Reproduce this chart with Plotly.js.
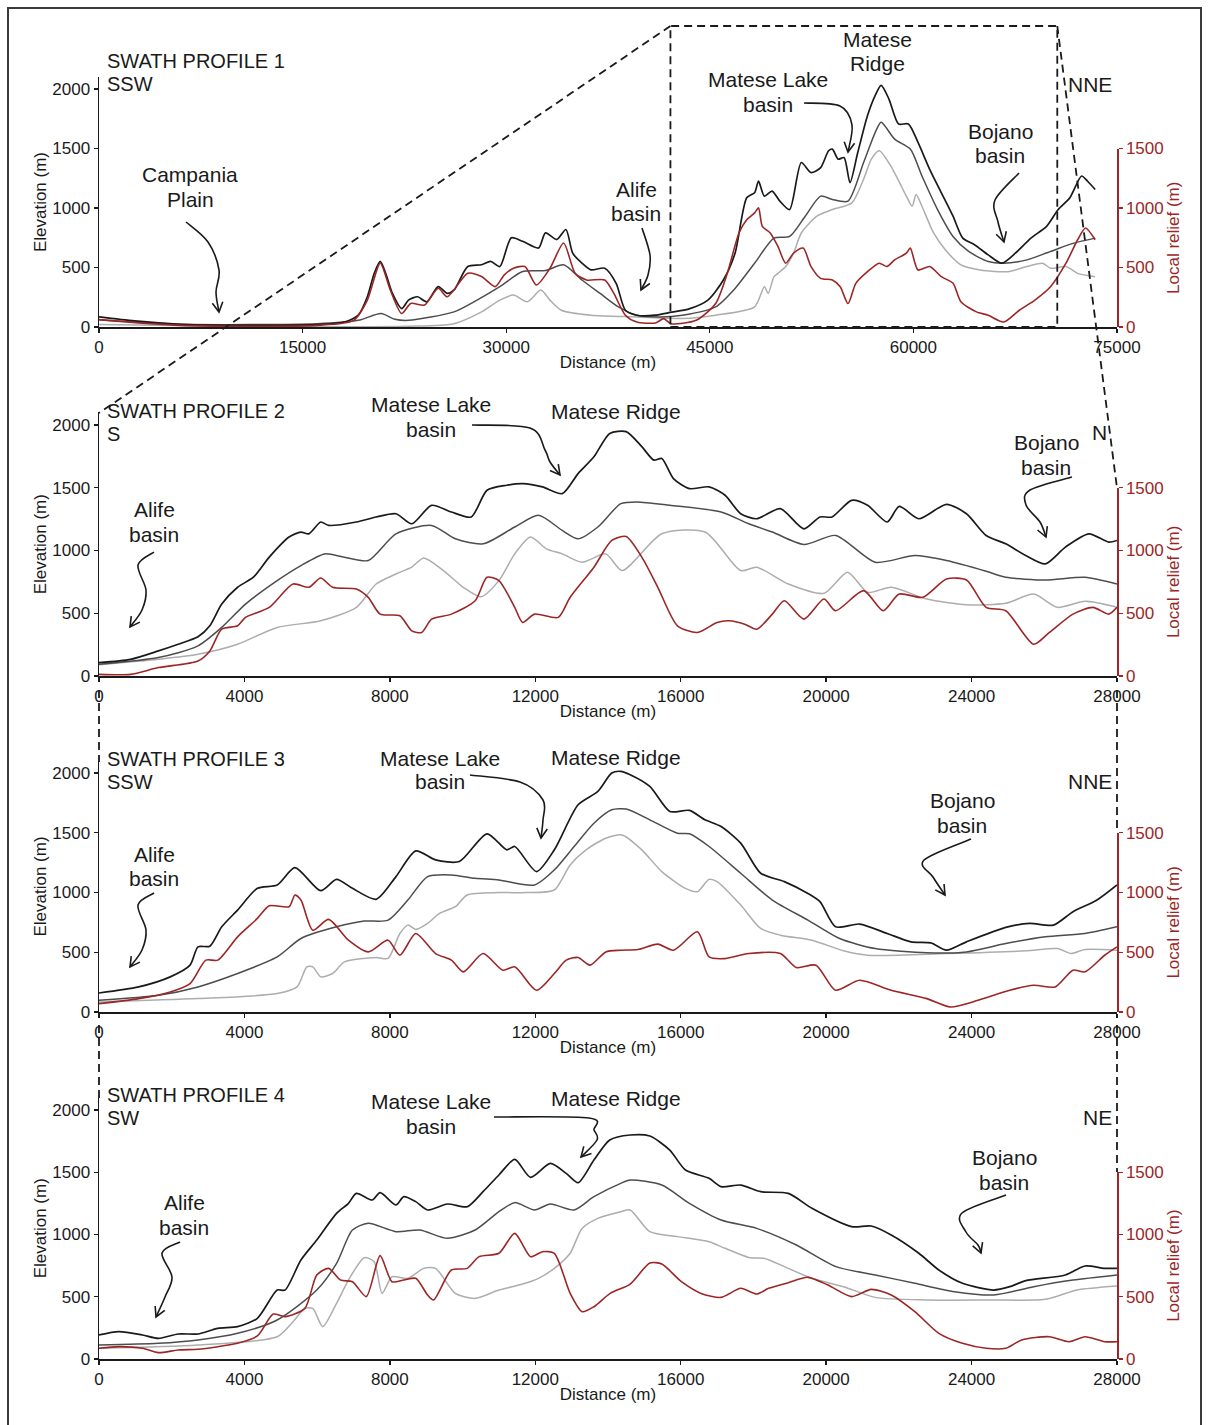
<!DOCTYPE html>
<html><head><meta charset="utf-8">
<script src="https://cdn.plot.ly/plotly-3.0.1.min.js"></script>
<style>html,body{margin:0;padding:0;background:#fff;}#chart{width:1209px;height:1425px;}</style>
</head><body><div id="chart"></div>
<script>
// ---------------- DATA (distance m, value m) ----------------
const p1Max=[[0,85],[2620,51],[5990,23],[9350,14],[12700,14],[16070,20],[18090,42],[19100,99],[19770,254],[20280,452],[20720,551],[21120,452],[21620,282],[22300,155],[22800,226],[23470,254],[24150,212],[24990,339],[25660,282],[26160,311],[27170,508],[28180,523],[28850,551],[29530,508],[30370,749],[31210,720],[32390,664],[32890,791],[33730,735],[34400,819],[34900,621],[35580,537],[36250,480],[37260,494],[38100,367],[38780,141],[39620,99],[40960,99],[42200,125],[43420,150],[44860,226],[46000,395],[46860,620],[47720,1086],[48300,1128],[48590,1227],[49020,1100],[49590,1142],[50160,1058],[50880,987],[51740,1382],[52460,1297],[53170,1340],[53750,1481],[54030,1495],[54460,1410],[54890,1424],[55330,1213],[55900,1466],[56620,1777],[57190,1946],[57620,2030],[58190,1918],[58910,1706],[59630,1706],[60340,1551],[61200,1325],[62060,1128],[62920,931],[63640,747],[64500,691],[65510,606],[66510,536],[67510,620],[68660,747],[69810,846],[70670,987],[71530,1086],[72390,1269],[72820,1227],[73390,1156]];
const p1Mean=[[0,60],[5990,23],[16070,28],[19100,56],[20780,113],[21800,65],[22800,56],[26160,127],[27850,226],[29530,339],[31210,466],[32890,474],[34230,523],[35580,395],[36920,282],[38270,169],[39620,99],[41300,85],[42980,99],[45430,169],[46860,324],[48300,536],[49730,747],[50880,761],[52030,931],[53170,1100],[54030,1072],[55180,1058],[56330,1382],[57190,1636],[57620,1720],[58620,1579],[59770,1495],[60630,1269],[61780,987],[62920,761],[64070,635],[65510,550],[66650,536],[68370,564],[70100,635],[71820,705],[73390,747]];
const p1Min=[[0,20],[10000,6],[22800,6],[26160,28],[28180,127],[29530,226],[30540,268],[31550,212],[32560,311],[33220,226],[34060,141],[36250,99],[39620,85],[42980,71],[45430,99],[48300,169],[49020,338],[49300,282],[49730,423],[50020,451],[50590,508],[51170,620],[51740,790],[52890,931],[54030,987],[55470,1043],[56330,1241],[56900,1410],[57480,1481],[58330,1354],[59480,1100],[59910,1015],[60200,1114],[60630,1015],[61490,790],[62350,649],[63500,522],[64930,479],[66940,465],[68370,508],[69520,536],[70100,494],[71240,508],[72100,451],[73390,423]];
const p1Relief=[[0,62],[5990,14],[16070,14],[18770,56],[19770,226],[20720,537],[21460,311],[22300,113],[22970,198],[23980,184],[24990,325],[25660,254],[27170,452],[28180,424],[29190,339],[29860,438],[30540,494],[31380,508],[32220,353],[33230,494],[34230,706],[35080,452],[35920,395],[37260,395],[37930,282],[38780,99],[39620,42],[41000,34],[41600,70],[42130,28],[44000,56],[45430,197],[46290,451],[47150,790],[47720,902],[48300,959],[48590,1001],[48870,846],[49450,790],[50020,677],[50590,536],[51170,620],[51880,663],[52460,508],[53170,409],[54030,395],[54610,338],[55180,197],[55760,367],[56620,465],[57480,536],[58050,508],[58620,564],[59480,620],[59770,663],[60340,479],[61200,508],[62060,423],[62920,367],[63500,212],[64650,127],[65510,99],[66650,42],[67800,141],[68950,226],[70100,338],[71240,536],[72100,733],[72680,832],[73390,733]];

const p2Max=[[0,107],[871,133],[1634,200],[2178,253],[2723,312],[3049,400],[3376,573],[3812,707],[4247,787],[4683,947],[5227,1107],[5554,1147],[5772,1133],[6098,1227],[6316,1200],[7079,1227],[7623,1267],[8168,1293],[8603,1213],[9148,1360],[9692,1307],[10237,1267],[10672,1480],[11217,1520],[11652,1533],[12197,1507],[12741,1453],[13177,1613],[13613,1747],[14048,1933],[14500,1947],[14930,1827],[15260,1720],[15480,1733],[15800,1573],[16240,1493],[16780,1507],[17220,1440],[17650,1293],[18090,1253],[18740,1333],[19390,1173],[19830,1267],[20160,1267],[20700,1400],[21140,1360],[21680,1227],[22010,1352],[22550,1253],[23310,1368],[23860,1293],[24400,1120],[24940,1053],[25490,960],[26030,893],[26580,1027],[27230,1133],[27770,1067],[28000,1080]];
const p2Mean=[[0,93],[1634,147],[2723,240],[3376,387],[4030,573],[4901,760],[5554,880],[6207,973],[6752,947],[7405,920],[8168,1133],[9148,1200],[9801,1093],[10563,1053],[11435,1187],[12088,1280],[12741,1160],[13177,1093],[13721,1187],[14353,1373],[14800,1387],[15700,1360],[17110,1307],[17870,1213],[18520,1147],[19390,1048],[20260,1120],[21350,907],[22440,960],[23310,920],[24400,835],[24940,787],[26030,765],[27120,787],[28000,733]];
const p2Min=[[0,90],[1634,133],[2723,173],[3812,253],[4901,387],[6098,440],[7079,547],[7623,733],[8168,813],[8603,867],[8930,941],[9474,840],[10019,707],[10509,632],[10999,760],[11435,973],[11870,1107],[12306,1013],[12741,973],[13286,907],[13939,973],[14390,840],[15480,1133],[16670,1147],[17650,840],[18090,867],[18960,733],[19940,659],[20590,827],[21140,667],[21790,707],[22770,613],[23860,568],[24940,579],[25710,653],[26360,547],[27120,595],[28000,547]];
const p2Relief=[[0,13],[871,13],[1634,67],[2723,120],[3049,200],[3376,373],[3812,400],[4030,467],[4683,547],[5336,733],[5772,707],[6098,781],[6425,707],[7079,693],[7405,627],[7732,493],[8276,480],[8603,360],[8875,347],[9148,453],[9692,493],[10346,600],[10672,787],[10999,760],[11435,547],[11652,427],[11979,493],[12632,467],[12959,627],[13613,867],[14103,1080],[14500,1112],[14930,947],[15370,707],[15910,400],[16460,347],[17000,427],[17330,440],[17760,413],[18090,373],[18520,493],[18850,600],[19390,453],[19940,613],[20260,520],[21030,680],[21570,520],[22010,653],[22660,627],[23310,773],[23860,765],[24400,547],[24940,520],[25710,253],[26140,347],[26790,493],[27340,547],[27770,493],[28000,547]];

const p3Max=[[0,159],[1089,210],[1960,294],[2505,392],[2723,545],[3049,551],[3376,713],[3812,853],[4356,1035],[4901,1063],[5390,1208],[6098,1015],[6534,1110],[6970,1035],[7623,943],[8168,1133],[8712,1348],[9257,1273],[9910,1259],[10672,1491],[11217,1357],[11435,1385],[12034,1175],[12524,1357],[13177,1734],[13721,1846],[14103,2000],[14350,2014],[14610,1986],[15150,1888],[15700,1678],[16240,1687],[16670,1608],[17110,1552],[17650,1413],[18200,1161],[18850,1091],[19500,992],[19830,923],[20260,713],[20920,736],[21680,657],[22330,587],[22880,579],[23310,517],[23860,587],[24940,708],[25600,741],[26250,727],[26790,839],[27450,937],[28000,1063]];
const p3Mean=[[0,98],[1634,140],[2723,210],[3812,322],[4901,461],[5554,615],[6534,713],[7296,761],[7950,769],[8494,937],[9039,1133],[9692,1147],[10346,1119],[10999,1105],[11979,1063],[12524,1189],[13068,1385],[13613,1580],[14103,1692],[14500,1698],[15150,1608],[15910,1496],[16240,1491],[16780,1385],[17650,1161],[18520,937],[19500,769],[20370,615],[21350,531],[22770,495],[23860,503],[24940,573],[26030,629],[27120,657],[28000,713]];
const p3Min=[[0,84],[2723,112],[4901,154],[5445,210],[5717,378],[5881,378],[6098,294],[6425,322],[6752,420],[7623,456],[7950,448],[8276,657],[8494,727],[8712,691],[9039,741],[9366,825],[9801,881],[10128,979],[11000,999],[11761,999],[12524,1021],[12959,1231],[13395,1357],[13939,1454],[14390,1482],[14930,1357],[15480,1175],[16130,1035],[16460,1007],[16780,1110],[17000,1091],[17650,895],[18200,699],[18740,643],[19610,601],[20480,512],[21140,475],[23310,489],[25490,512],[26360,531],[26740,489],[27120,523],[28000,517]];
const p3Relief=[[0,70],[1089,112],[1960,168],[2505,238],[2940,434],[3267,434],[3812,629],[4356,783],[4683,889],[5227,881],[5390,979],[5554,937],[5881,685],[6316,775],[6861,601],[7405,503],[7950,601],[8276,475],[8712,657],[9257,489],[9692,434],[10019,336],[10563,489],[11108,350],[11435,378],[12034,182],[12524,322],[12850,434],[13177,456],[13504,392],[13939,503],[14353,517],[14820,523],[15370,568],[15800,517],[16460,671],[16780,461],[17220,447],[17870,489],[18740,489],[19180,372],[19720,392],[20260,182],[20920,266],[21790,182],[22770,112],[23420,42],[24180,98],[25050,182],[25710,224],[26300,210],[26790,350],[27120,336],[27660,475],[28000,545]];

const p4Max=[[0,193],[545,220],[1198,193],[1634,166],[2178,201],[2723,201],[3267,246],[3812,260],[4356,327],[4901,554],[5118,554],[5554,795],[5990,956],[6534,1170],[6861,1250],[7079,1330],[7514,1277],[7732,1336],[8168,1237],[8385,1304],[8712,1264],[9039,1197],[9583,1245],[10128,1223],[10563,1344],[10999,1478],[11435,1603],[11870,1459],[12415,1571],[12850,1491],[13177,1416],[13613,1598],[14048,1759],[14610,1799],[15150,1791],[15700,1678],[16130,1518],[16780,1451],[17110,1384],[17650,1397],[18200,1344],[18960,1330],[19610,1210],[20700,1063],[21240,1068],[21790,996],[22550,849],[23100,715],[23750,608],[24610,554],[25050,581],[25490,629],[26580,675],[27120,747],[27660,728],[28000,728]];
const p4Mean=[[0,112],[1634,126],[2723,153],[3812,206],[4901,313],[5990,554],[6534,768],[6970,1036],[7405,1090],[8168,1023],[8821,1036],[9583,969],[10346,1036],[10999,1183],[11435,1256],[11979,1197],[12415,1245],[13068,1197],[13613,1304],[14350,1411],[14610,1438],[15480,1397],[16240,1250],[17110,1116],[18090,1049],[19180,916],[20270,742],[21350,675],[22440,608],[23530,541],[24610,514],[25710,581],[26790,634],[28000,675]];
const p4Min=[[0,86],[2723,112],[4901,179],[5336,300],[5663,407],[5881,407],[6153,260],[6534,447],[6861,634],[7296,814],[7568,782],[7786,527],[8059,661],[8494,648],[8930,728],[9257,728],[9801,527],[10346,487],[10999,554],[11652,602],[12088,648],[12524,728],[12959,849],[13286,1049],[13721,1130],[14350,1183],[14610,1197],[15150,1023],[15910,983],[16780,942],[17220,889],[17870,816],[18310,808],[18850,742],[19610,648],[20480,581],[21350,495],[22770,474],[24400,474],[26030,479],[26900,554],[28000,586]];
const p4Relief=[[0,86],[545,99],[1198,86],[1634,51],[2178,72],[2723,78],[3267,99],[3812,126],[4356,185],[4792,361],[5118,340],[5663,407],[5990,675],[6316,728],[6643,634],[6970,621],[7351,501],[7732,830],[8059,621],[8385,634],[8712,648],[9039,514],[9202,474],[9692,715],[10128,728],[10454,822],[10999,849],[11435,1009],[11870,822],[12197,862],[12524,849],[12959,527],[13286,380],[13613,420],[14060,527],[14610,602],[15150,771],[15480,763],[16020,621],[16560,527],[17110,495],[17650,568],[18090,522],[18420,568],[18960,613],[19500,656],[20050,594],[20700,501],[21240,559],[21790,514],[22440,380],[23100,206],[23750,126],[24400,86],[24940,86],[25380,153],[26140,179],[26680,139],[27120,179],[27660,139],[28000,139]];

const p1Ticks=[0,15000,30000,45000,60000,75000];
const p234Ticks=[0,4000,8000,12000,16000,20000,24000,28000];
const elevTicks=[0,500,1000,1500,2000];
const reliefTicks=[0,500,1000,1500];

// ---------------- LAYOUT ----------------
const W=1209,H=1425;
const FONT='"Liberation Sans", Arial, Helvetica, sans-serif';
const INK='#1a1a1a', MEANC='#4d4d4d', MINC='#adadad', RED='#9c2626';
const PX_L=99, PX_R=1117;
const X=px=>px/W, Y=py=>1-py/H;

const panels=[
 {max:p1Max,mean:p1Mean,min:p1Min,rel:p1Relief,xmax:75000,ticks:p1Ticks,bottom:327,scale:0.119},
 {max:p2Max,mean:p2Mean,min:p2Min,rel:p2Relief,xmax:28000,ticks:p234Ticks,bottom:676,scale:0.1255},
 {max:p3Max,mean:p3Mean,min:p3Min,rel:p3Relief,xmax:28000,ticks:p234Ticks,bottom:1012,scale:0.1195},
 {max:p4Max,mean:p4Mean,min:p4Min,rel:p4Relief,xmax:28000,ticks:p234Ticks,bottom:1359,scale:0.1245}
];

const traces=[]; const layout={
 width:W,height:H,margin:{l:0,r:0,t:0,b:0},showlegend:false,
 paper_bgcolor:'#fff',plot_bgcolor:'rgba(0,0,0,0)',
 font:{family:FONT,color:INK,size:17},annotations:[],shapes:[]
};
const axBase={showgrid:false,zeroline:false,showline:true,linewidth:1.5,ticks:'outside',ticklen:4,tickwidth:1.3,automargin:false,tickfont:{size:17,family:FONT},fixedrange:true};

panels.forEach((p,i)=>{
 const n=i+1, xa=n===1?'x':'x'+n, yl='y'+(2*n-1===1?'':(2*n-1)), yr='y'+(2*n);
 const xKey=n===1?'xaxis':'xaxis'+n, ylKey=2*n-1===1?'yaxis':'yaxis'+(2*n-1), yrKey='yaxis'+(2*n);
 const top2100=p.bottom-2100*p.scale, top1500=p.bottom-1500*p.scale;
 layout[xKey]=Object.assign({},axBase,{domain:[X(PX_L),X(PX_R)],range:[0,p.xmax],anchor:yl,tickvals:p.ticks,tickformat:'d',
   linecolor:INK,tickcolor:INK,title:{text:'Distance (m)',font:{size:17,family:FONT},standoff:0}});
 layout[ylKey]=Object.assign({},axBase,{domain:[Y(p.bottom),Y(top2100)],range:[0,2100],anchor:xa,tickvals:elevTicks,
   linecolor:INK,tickcolor:INK,title:{text:'Elevation (m)',font:{size:17,family:FONT},standoff:1}});
 layout[yrKey]=Object.assign({},axBase,{domain:[Y(p.bottom),Y(top1500)],range:[0,1500],anchor:xa,side:'right',tickvals:reliefTicks,
   linecolor:RED,tickcolor:RED,tickfont:{size:17,family:FONT,color:RED},title:{text:'Local relief (m)',font:{size:17,family:FONT,color:RED},standoff:1}});
 const mk=(arr,color,w,yax,name)=>({type:'scatter',mode:'lines',name:name,x:arr.map(d=>d[0]),y:arr.map(d=>d[1]),xaxis:xa,yaxis:yax,line:{color:color,width:w,shape:'spline',smoothing:0.7},hoverinfo:'skip'});
 traces.push(mk(p.min,MINC,1.5,yl,'Minimum elevation'));
 traces.push(mk(p.mean,MEANC,1.5,yl,'Mean elevation'));
 traces.push(mk(p.max,INK,1.7,yl,'Maximum elevation'));
 traces.push(mk(p.rel,RED,1.6,yr,'Local relief'));
});

// ---------------- TEXT ----------------
function txt(px,py,t,anchor,size){
 layout.annotations.push({xref:'paper',yref:'paper',x:X(px),y:Y(py),text:t,showarrow:false,borderpad:0,
  xanchor:anchor||'center',yanchor:'middle',font:{family:FONT,size:size||21,color:INK}});
}
const labels=[
 [106,61,'SWATH PROFILE 1','left',20],[106,84,'SSW','left',20],
 [190,175,'Campania'],[190,199,'Plain'],[636,189,'Alife'],[636,213,'basin'],
 [768,80,'Matese Lake'],[768,104,'basin'],[877,40,'Matese'],[877,64,'Ridge'],
 [1000,132,'Bojano'],[1000,156,'basin'],[1113,84,'NNE','right'],
 [106,411,'SWATH PROFILE 2','left',20],[106,434,'S','left',20],
 [431,404,'Matese Lake'],[431,429,'basin'],[616,412,'Matese Ridge'],
 [154,509,'Alife'],[154,534,'basin'],[1046,443,'Bojano'],[1046,467,'basin'],[1108,433,'N','right'],
 [106,759,'SWATH PROFILE 3','left',20],[106,782,'SSW','left',20],
 [440,758,'Matese Lake'],[440,782,'basin'],[616,757,'Matese Ridge'],
 [154,854,'Alife'],[154,878,'basin'],[962,800,'Bojano'],[962,825,'basin'],[1113,781,'NNE','right'],
 [106,1095,'SWATH PROFILE 4','left',20],[106,1118,'SW','left',20],
 [431,1101,'Matese Lake'],[431,1126,'basin'],[616,1098,'Matese Ridge'],
 [184,1202,'Alife'],[184,1227,'basin'],[1004,1157,'Bojano'],[1004,1182,'basin'],[1113,1117,'NE','right']
];
labels.forEach(l=>txt(l[0],l[1],l[2],l[3],l[4]));

// ---------------- ARROWS ----------------
function arrow(pts){
 let d='M'+X(pts[0][0])+','+Y(pts[0][1]);
 for(let i=0;i<pts.length-1;i++){
  const p0=pts[Math.max(i-1,0)],p1=pts[i],p2=pts[i+1],p3=pts[Math.min(i+2,pts.length-1)];
  const c1=[p1[0]+(p2[0]-p0[0])/6,p1[1]+(p2[1]-p0[1])/6];
  const c2=[p2[0]-(p3[0]-p1[0])/6,p2[1]-(p3[1]-p1[1])/6];
  d+=' C'+X(c1[0])+','+Y(c1[1])+' '+X(c2[0])+','+Y(c2[1])+' '+X(p2[0])+','+Y(p2[1]);
 }
 layout.shapes.push({type:'path',xref:'paper',yref:'paper',path:d,line:{color:INK,width:1.6}});
 const tip=pts[pts.length-1],prev=pts[pts.length-2];
 let dx=tip[0]-prev[0],dy=tip[1]-prev[1];const L=Math.hypot(dx,dy);dx/=L;dy/=L;
 const hl=11,a=0.5;
 const r=(ang)=>[tip[0]-hl*(dx*Math.cos(ang)-dy*Math.sin(ang)),tip[1]-hl*(dx*Math.sin(ang)+dy*Math.cos(ang))];
 const A=r(a),B=r(-a);
 layout.shapes.push({type:'path',xref:'paper',yref:'paper',
  path:'M'+X(A[0])+','+Y(A[1])+' L'+X(tip[0])+','+Y(tip[1])+' L'+X(B[0])+','+Y(B[1]),line:{color:INK,width:1.6}});
}
[
 [[186,222],[208,242],[219,270],[216,292],[219,312]],
 [[642,228],[650,255],[648,275],[641,290]],
 [[804,103],[840,106],[852,125],[848,152]],
 [[1019,173],[995,200],[998,222],[1004,242]],
 [[472,425],[530,428],[545,450],[550,462],[560,475]],
 [[154,552],[138,565],[146,590],[142,610],[130,627]],
 [[1072,477],[1030,490],[1026,505],[1040,522],[1046,537]],
 [[470,775],[520,782],[543,800],[543,820],[541,838]],
 [[154,893],[138,905],[146,930],[142,950],[130,967]],
 [[971,839],[924,860],[933,877],[945,895]],
 [[494,1117],[589,1118],[594,1130],[597,1140],[581,1157]],
 [[180,1242],[162,1253],[172,1277],[165,1297],[156,1317]],
 [[1006,1195],[962,1213],[966,1232],[978,1245],[981,1253]]
].forEach(arrow);

// ---------------- DASHED CONNECTORS & FRAME ----------------
function dline(a,b){layout.shapes.push({type:'line',xref:'paper',yref:'paper',x0:X(a[0]),y0:Y(a[1]),x1:X(b[0]),y1:Y(b[1]),line:{color:INK,width:1.8,dash:'8px,5px'}});}
const bx0=PX_L+42100/75000*(PX_R-PX_L), bx1=PX_L+70600/75000*(PX_R-PX_L);
layout.shapes.push({type:'rect',xref:'paper',yref:'paper',x0:X(bx0),x1:X(bx1),y0:Y(327),y1:Y(26),line:{color:INK,width:1.8,dash:'8px,5px'}});
dline([bx0,26],[PX_L,413]);
dline([bx1,26],[PX_R,488]);
dline([PX_L,690],[PX_L,762]); dline([PX_R,690],[PX_R,833]);
dline([PX_L,1025],[PX_L,1098]); dline([PX_R,1025],[PX_R,1172]);
layout.shapes.push({type:'rect',xref:'paper',yref:'paper',x0:X(8),x1:X(1201),y0:Y(1445),y1:Y(8),line:{color:'#3a3a3a',width:2}});

Plotly.newPlot('chart',traces,layout,{staticPlot:true,displayModeBar:false});
</script></body></html>
